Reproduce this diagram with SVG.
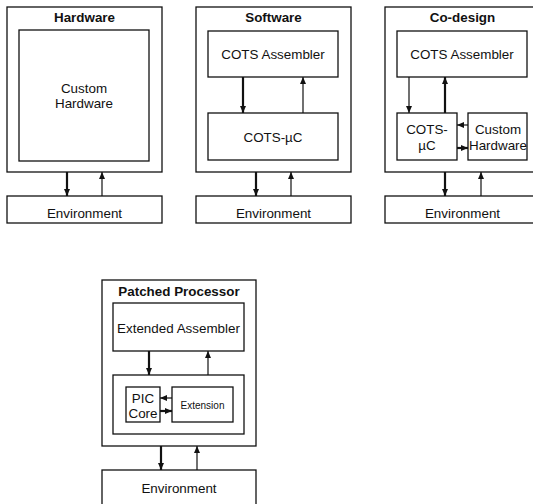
<svg xmlns="http://www.w3.org/2000/svg" width="533" height="504" viewBox="0 0 533 504">
  <style>
    .box { fill: #ffffff; stroke: #111; stroke-width: 1.3; }
    .t { font-family: "Liberation Sans", Arial, sans-serif; font-size: 13.4px; fill: #111; text-anchor: middle; dominant-baseline: central; }
    .title { font-weight: bold; }
    .small { font-size: 10px; }
    .thick { stroke: #111; stroke-width: 2.2; fill: none; }
    .thin { stroke: #111; stroke-width: 1.2; fill: none; }
  </style>
  <defs>
    <marker id="head" markerUnits="userSpaceOnUse" markerWidth="8" markerHeight="8" viewBox="0 0 8 8" refX="7.5" refY="4" orient="auto">
      <path d="M0.5,1 L7.5,4 L0.5,7 Z" fill="#111"/>
    </marker>
  </defs>

  <rect width="533" height="504" fill="#ffffff"/>

  <!-- Hardware configuration -->
  <g id="hardware">
    <rect class="box" x="7" y="7" width="155" height="165"/>
    <text class="t title" x="84.5" y="17.5">Hardware</text>
  </g>
  <g id="hw-custom">
    <rect class="box" x="19" y="30" width="130" height="131"/>
    <text class="t" x="84" y="88">Custom</text>
    <text class="t" x="84" y="103.5">Hardware</text>
  </g>
  <g id="hw-env">
    <rect class="box" x="7" y="196" width="155" height="27"/>
    <text class="t" x="84.5" y="213">Environment</text>
  </g>

  <!-- Software configuration -->
  <g id="software">
    <rect class="box" x="196" y="7" width="155" height="165"/>
    <text class="t title" x="273.5" y="17.5">Software</text>
  </g>
  <g id="sw-assembler">
    <rect class="box" x="208" y="31" width="130" height="46"/>
    <text class="t" x="273" y="54">COTS Assembler</text>
  </g>
  <g id="sw-uc">
    <rect class="box" x="208" y="113" width="130" height="47"/>
    <text class="t" x="273" y="137">COTS-µC</text>
  </g>
  <g id="sw-env">
    <rect class="box" x="196" y="196" width="155" height="27"/>
    <text class="t" x="273.5" y="213">Environment</text>
  </g>

  <!-- Co-design configuration -->
  <g id="codesign">
    <rect class="box" x="385" y="7" width="155" height="165"/>
    <text class="t title" x="462.5" y="17.5">Co-design</text>
  </g>
  <g id="cd-assembler">
    <rect class="box" x="397" y="31" width="130" height="46"/>
    <text class="t" x="462" y="54">COTS Assembler</text>
  </g>
  <g id="cd-uc">
    <rect class="box" x="397" y="113" width="60" height="47"/>
    <text class="t" x="427" y="129.5">COTS-</text>
    <text class="t" x="427" y="145.5">µC</text>
  </g>
  <g id="cd-custom">
    <rect class="box" x="468" y="113" width="59" height="47"/>
    <text class="t" x="498" y="129.5">Custom</text>
    <text class="t" x="498" y="145.5">Hardware</text>
  </g>
  <g id="cd-env">
    <rect class="box" x="385" y="196" width="155" height="27"/>
    <text class="t" x="462.5" y="213">Environment</text>
  </g>

  <!-- Patched processor configuration -->
  <g id="patched">
    <rect class="box" x="102" y="280" width="154" height="166"/>
    <text class="t title" x="179" y="291">Patched Processor</text>
  </g>
  <g id="pp-assembler">
    <rect class="box" x="113" y="303" width="131" height="48"/>
    <text class="t" x="178.5" y="328">Extended Assembler</text>
  </g>
  <g id="pp-processor">
    <rect class="box" x="113" y="375" width="131" height="59"/>
  </g>
  <g id="pp-core">
    <rect class="box" x="126" y="387" width="34" height="35"/>
    <text class="t" x="143" y="398">PIC</text>
    <text class="t" x="143" y="413">Core</text>
  </g>
  <g id="pp-extension">
    <rect class="box" x="172" y="387" width="61" height="35"/>
    <text class="t small" x="202.5" y="405">Extension</text>
  </g>
  <g id="pp-env">
    <rect class="box" x="102" y="470" width="154" height="40"/>
    <text class="t" x="179" y="488">Environment</text>
  </g>

  <!-- Connectors -->
  <g id="connectors">
    <!-- Hardware -->
    <line class="thick" x1="67" y1="172" x2="67" y2="196" marker-end="url(#head)"/>
    <line class="thin" x1="102" y1="196" x2="102" y2="172" marker-end="url(#head)"/>
    <!-- Software -->
    <line class="thick" x1="243" y1="77" x2="243" y2="113" marker-end="url(#head)"/>
    <line class="thin" x1="303" y1="113" x2="303" y2="77" marker-end="url(#head)"/>
    <line class="thick" x1="256" y1="172" x2="256" y2="196" marker-end="url(#head)"/>
    <line class="thin" x1="291" y1="196" x2="291" y2="172" marker-end="url(#head)"/>
    <!-- Co-design -->
    <line class="thin" x1="409" y1="77" x2="409" y2="113" marker-end="url(#head)"/>
    <line class="thick" x1="445" y1="113" x2="445" y2="77" marker-end="url(#head)"/>
    <line class="thin" x1="468" y1="125" x2="457" y2="125" marker-end="url(#head)"/>
    <line class="thick" x1="457" y1="148" x2="468" y2="148" marker-end="url(#head)"/>
    <line class="thick" x1="445" y1="172" x2="445" y2="196" marker-end="url(#head)"/>
    <line class="thin" x1="481" y1="196" x2="481" y2="172" marker-end="url(#head)"/>
    <!-- Patched processor -->
    <line class="thick" x1="149" y1="351" x2="149" y2="375" marker-end="url(#head)"/>
    <line class="thin" x1="208" y1="375" x2="208" y2="351" marker-end="url(#head)"/>
    <line class="thin" x1="172" y1="398" x2="160" y2="398" marker-end="url(#head)"/>
    <line class="thick" x1="160" y1="411" x2="172" y2="411" marker-end="url(#head)"/>
    <line class="thick" x1="161" y1="446" x2="161" y2="470" marker-end="url(#head)"/>
    <line class="thin" x1="197" y1="470" x2="197" y2="446" marker-end="url(#head)"/>
  </g>
</svg>
